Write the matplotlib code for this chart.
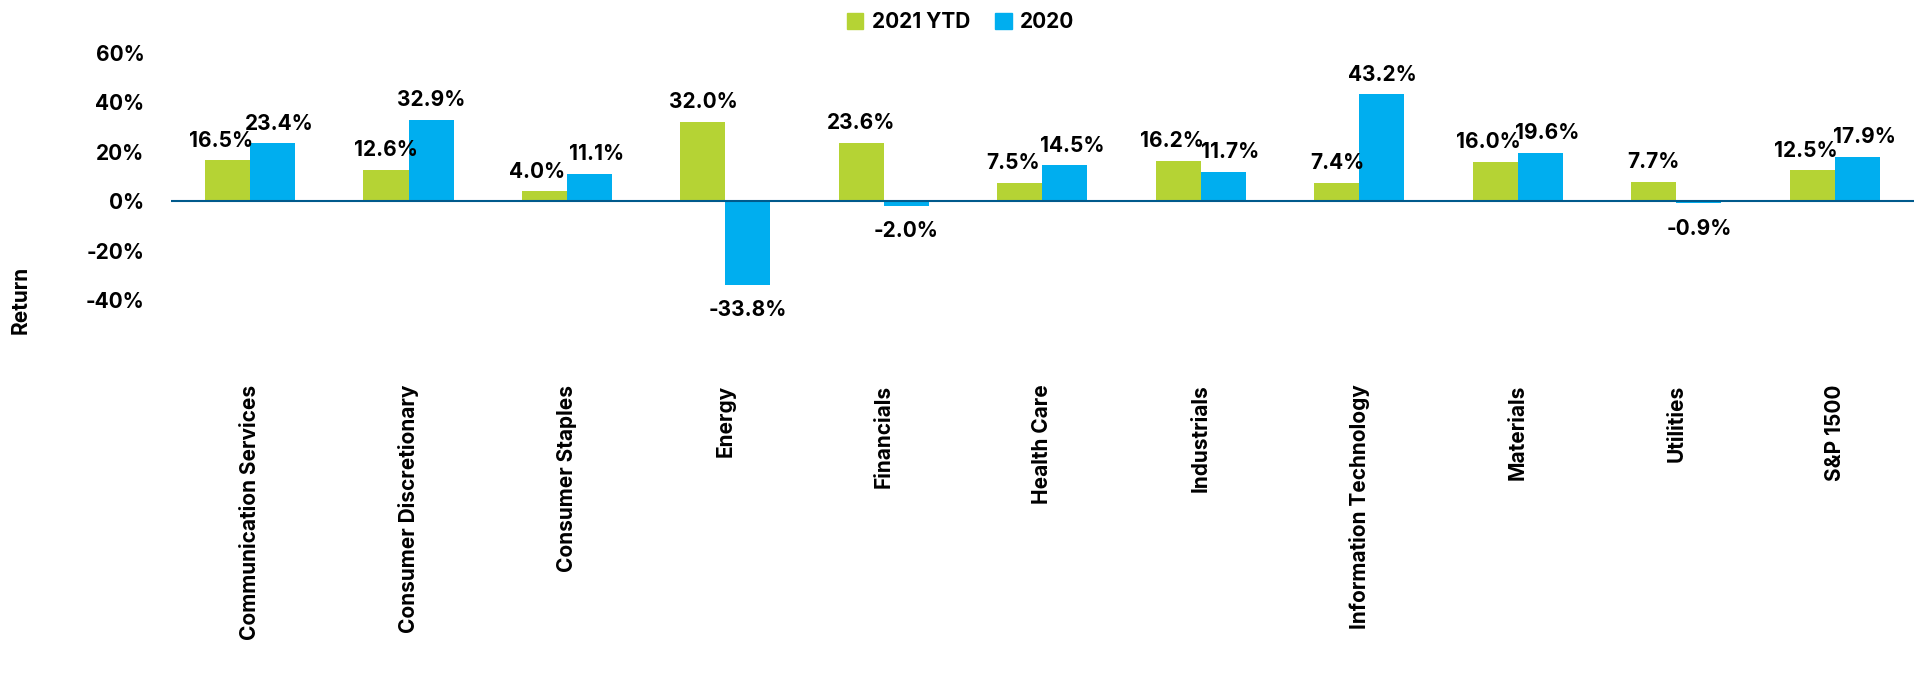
import matplotlib
matplotlib.use("Agg")
import matplotlib.pyplot as plt
import numpy as np
from matplotlib.patches import Patch

# Datos del gráfico
sectores = ["Communication Services", "Consumer Discretionary", "Consumer Staples",
            "Energy", "Financials", "Health Care", "Industrials",
            "Information Technology", "Materials", "Utilities", "S&P 1500"]
ytd_2021 = [16.5, 12.6, 4.0, 32.0, 23.6, 7.5, 16.2, 7.4, 16.0, 7.7, 12.5]
ret_2020 = [23.4, 32.9, 11.1, -33.8, -2.0, 14.5, 11.7, 43.2, 19.6, -0.9, 17.9]
series = ["2021 YTD", "2020"]
ticks_y = [-40, -20, 0, 20, 40, 60]

verde = "#b5d334"
azul = "#00aeef"

plt.rcParams["font.family"] = ["Inter", "DejaVu Sans"]
plt.rcParams["font.weight"] = "bold"

fig = plt.figure(figsize=(19.21, 6.74), dpi=100)
ax = fig.add_axes([0.0889, 0.555, 0.9075, 0.3665])

x = np.arange(len(sectores))
ancho = 0.284

b1 = ax.bar(x - ancho/2, ytd_2021, width=ancho, color=verde, label=series[0])
b2 = ax.bar(x + ancho/2, ret_2020, width=ancho, color=azul, label=series[1])

# Etiquetas de valores (se separan un poco si las dos barras tienen altura parecida)
for i in range(len(sectores)):
    a, b = ytd_2021[i], ret_2020[i]
    cerca = a >= 0 and b >= 0 and abs(a - b) < 10
    for rect, v, lado in ((b1[i], a, -1), (b2[i], b, 1)):
        cx = rect.get_x() + rect.get_width() / 2
        dx = 5 * lado if cerca else 0
        dy = 7 if v >= 0 else -11
        ax.annotate(f"{v:.1f}%", (cx, v), xytext=(dx, dy), textcoords="offset points",
                    ha="center", va="bottom" if v >= 0 else "top",
                    fontsize=15, fontweight="bold", color="black")

# Línea del cero
ax.axhline(0, color="#005a8c", lw=1.5, zorder=1)

ax.set_xlim(-0.5, len(sectores) - 0.5)
ax.set_ylim(-40, 60)
ax.set_yticks(ticks_y)
ax.set_yticklabels([f"{t}%" for t in ticks_y], fontsize=15, fontweight="bold")
ax.set_xticks(x)
ax.set_xticklabels(sectores, rotation=90, fontsize=15, fontweight="bold", va="top")
ax.tick_params(axis="y", length=0, pad=19)
ax.tick_params(axis="x", length=0, pad=61)
for s in ax.spines.values():
    s.set_visible(False)

fig.text(21/1921, 1 - 300/674, "Return", rotation=90, ha="center", va="center",
         fontsize=15, fontweight="bold")

handles = [Patch(color=verde, label=series[0]), Patch(color=azul, label=series[1])]
fig.legend(handles=handles, loc="upper center", bbox_to_anchor=(0.5, 1.01), ncol=2,
           frameon=False, handlelength=0.8, handleheight=0.8,
           handletextpad=0.4, columnspacing=1.2, prop={"weight": "bold", "size": 15})

fig.savefig("out.png", dpi=100)
